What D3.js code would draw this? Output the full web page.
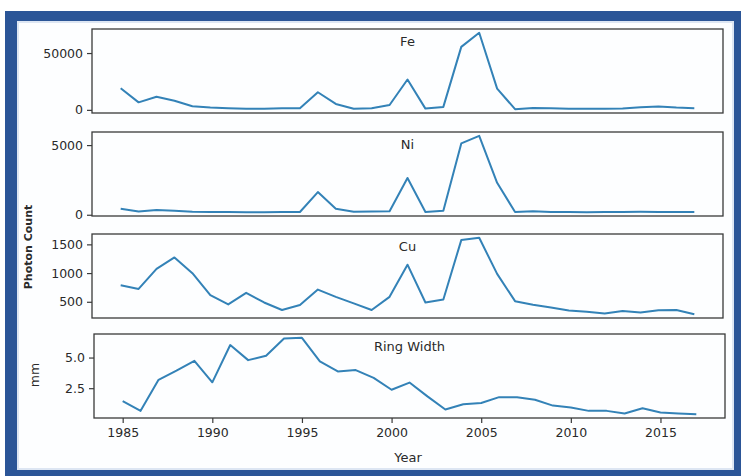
<!DOCTYPE html>
<html>
<head>
<meta charset="utf-8">
<script src="https://cdn.jsdelivr.net/npm/d3@7"></script>
<style>
  body { margin: 0; background: #fff; }
  text { font-family: "DejaVu Sans", sans-serif; fill: #2a2a2a; }
</style>
</head>
<body>
<div id="chartDiv"></div>
<script>
// stacked element counts and ring width, one panel each

var years = [1985, 1986, 1987, 1988, 1989, 1990, 1991, 1992, 1993, 1994, 1995,
             1996, 1997, 1998, 1999, 2000, 2001, 2002, 2003, 2004, 2005, 2006,
             2007, 2008, 2009, 2010, 2011, 2012, 2013, 2014, 2015, 2016, 2017];
var yearTicks = [1985, 1990, 1995, 2000, 2005, 2010, 2015];

var fe = [19000, 6600, 11500, 8000, 3200, 2000, 1500, 1000, 1000, 1500, 1500,
          15500, 5200, 1000, 1500, 4300, 26700, 1100, 2600, 55400, 67800, 18700,
          600, 1700, 1400, 1000, 1000, 1000, 1300, 2200, 3000, 2000, 1500];
var ni = [425, 230, 350, 280, 210, 190, 190, 185, 185, 190, 200,
          1630, 425, 210, 230, 250, 2640, 200, 280, 5120, 5665, 2290,
          200, 250, 200, 190, 185, 190, 200, 210, 200, 190, 190];
var cu = [787, 724, 1072, 1272, 998, 615, 454, 655, 488, 357, 443,
          712, 586, 473, 357, 586, 1146, 488, 541, 1574, 1614, 986,
          511, 449, 400, 348, 325, 296, 341, 313, 353, 357, 284];
var ringWidth = [1.45, 0.65, 3.18, 3.93, 4.73, 2.98, 6.02, 4.79, 5.14, 6.56, 6.61,
                 4.68, 3.87, 3.98, 3.34, 2.37, 2.96, 1.83, 0.76, 1.19, 1.29, 1.77,
                 1.77, 1.56, 1.08, 0.92, 0.65, 0.65, 0.44, 0.86, 0.52, 0.44, 0.38];

var panelNames = ['Fe', 'Ni', 'Cu', 'Ring Width'];
var feTicks = [0, 50000];
var niTicks = [0, 5000];
var cuTicks = [500, 1000, 1500];
var rwTicks = [2.5, 5.0];

// Instantiate variables
var chartWidth = 742;
var chartHeight = 476;
var boxLeft = 92, boxRight = 723;
var panelTops = [29, 132, 234, 334];
var panelHeight = 84;
var panelShift = [0, 0, 0, 2];
var lineColor = '#3382b7';

var svg = d3.select('#chartDiv')
            .append('svg')
            .attr('width', chartWidth)
            .attr('height', chartHeight);

// blue photo frame
svg.append('rect').attr('x', 5).attr('y', 11).attr('width', 736).attr('height', 465)
   .attr('fill', '#2b5597');
svg.append('rect').attr('x', 18).attr('y', 22).attr('width', 715).attr('height', 447)
   .attr('fill', '#fdfeff').attr('stroke', '#dde6f3').attr('stroke-width', 2);

var panels = [
  { name: panelNames[0], values: fe, ticks: feTicks, fmt: d3.format('d') },
  { name: panelNames[1], values: ni, ticks: niTicks, fmt: d3.format('d') },
  { name: panelNames[2], values: cu, ticks: cuTicks, fmt: d3.format('d') },
  { name: panelNames[3], values: ringWidth, ticks: rwTicks, fmt: d3.format('.1f') }
];

panels.forEach(function(p, i) {
  var top = panelTops[i];
  var dx = panelShift[i];
  var left = boxLeft + dx, right = boxRight + dx;

  // matplotlib style 5% margins
  var x = d3.scaleLinear()
            .domain([years[0] - 1.6, years[years.length - 1] + 1.6])
            .range([left, right]);
  var ext = d3.extent(p.values);
  var pad = (ext[1] - ext[0]) * 0.05;
  var y = d3.scaleLinear()
            .domain([ext[0] - pad, ext[1] + pad])
            .range([top + panelHeight, top]);

  var g = svg.append('g');

  g.append('path')
   .datum(p.values)
   .attr('fill', 'none')
   .attr('stroke', lineColor)
   .attr('stroke-width', 2)
   .attr('stroke-linejoin', 'round')
   .attr('d', d3.line()
                .x(function(d, j) { return x(years[j]); })
                .y(function(d) { return y(d); }));

  g.append('rect')
   .attr('x', left).attr('y', top)
   .attr('width', right - left).attr('height', panelHeight)
   .attr('fill', 'none')
   .attr('stroke', '#3a3a3a')
   .attr('stroke-width', 1.3);

  var yAxis = g.append('g')
               .attr('transform', 'translate(' + left + ',0)')
               .call(d3.axisLeft(y).tickValues(p.ticks).tickFormat(p.fmt).tickSize(5).tickPadding(4));
  yAxis.select('.domain').remove();
  yAxis.selectAll('line').attr('stroke', '#3a3a3a').attr('stroke-width', 1.2);
  yAxis.selectAll('text').attr('font-size', '12.5px').attr('fill', '#2a2a2a')
       .style('font-family', '"DejaVu Sans", sans-serif');

  g.append('text')
   .attr('x', (left + right) / 2)
   .attr('y', top + 17)
   .attr('text-anchor', 'middle')
   .attr('font-size', '13px')
   .text(p.name);

  if (i === panels.length - 1) {
    var xAxis = g.append('g')
                 .attr('transform', 'translate(0,' + (top + panelHeight) + ')')
                 .call(d3.axisBottom(x).tickValues(yearTicks).tickFormat(d3.format('d')).tickSize(5).tickPadding(5));
    xAxis.select('.domain').remove();
    xAxis.selectAll('line').attr('stroke', '#3a3a3a').attr('stroke-width', 1.2);
    xAxis.selectAll('text').attr('font-size', '12.5px').attr('fill', '#2a2a2a')
         .style('font-family', '"DejaVu Sans", sans-serif');
  }
});

// axis titles
svg.append('text')
   .attr('transform', 'translate(32,247) rotate(-90)')
   .attr('text-anchor', 'middle')
   .attr('font-size', '11px')
   .attr('font-weight', 'bold')
   .text('Photon Count');

svg.append('text')
   .attr('transform', 'translate(39,375) rotate(-90)')
   .attr('text-anchor', 'middle')
   .attr('font-size', '12.5px')
   .text('mm');

svg.append('text')
   .attr('x', 408)
   .attr('y', 462)
   .attr('text-anchor', 'middle')
   .attr('font-size', '13px')
   .text('Year');
</script>
</body>
</html>
